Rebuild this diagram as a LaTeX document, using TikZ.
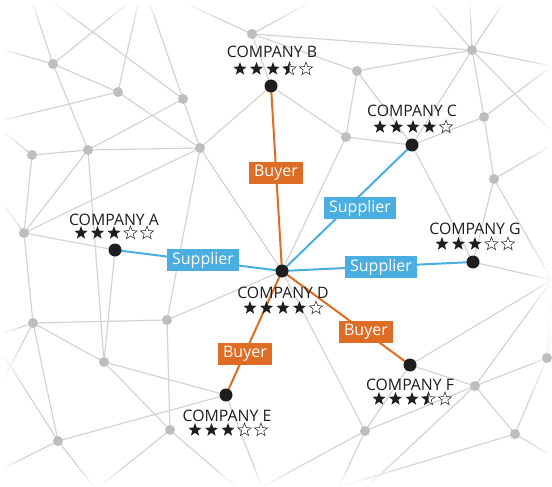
\documentclass[tikz,border=0pt]{standalone}
\usepackage{fontspec}
\setmainfont{Open Sans}
\usetikzlibrary{fadings}
\definecolor{netline}{RGB}{212,212,212}
\definecolor{netdot}{RGB}{190,190,194}
\definecolor{buyer}{RGB}{222,108,36}
\definecolor{supplier}{RGB}{74,174,224}
\definecolor{ink}{RGB}{30,30,30}
\tikzset{
  netedge/.style={draw=netline, line width=1.2pt},
  netnode/.style={fill=netdot},
  buyerlink/.style={draw=buyer, line width=2pt},
  supplierlink/.style={draw=supplier, line width=2pt},
  tagbox/.style={text=white, inner xsep=5pt, inner ysep=0pt, minimum height=22pt,
    font=\fontsize{16}{18}\selectfont},
  buyerbox/.style={tagbox, fill=buyer},
  supplierbox/.style={tagbox, fill=supplier},
  companydot/.style={fill=ink},
  companyname/.style={anchor=base, text=ink, inner sep=0pt, font=\fontsize{15.8}{18}\selectfont},
}
\def\starpath{(270:7) -- (306:2.9) -- (342:7) -- (18:2.9) -- (54:7) -- (90:2.9) -- (126:7) -- (162:2.9) -- (198:7) -- (234:2.9) -- cycle}
% #1 x, #2 y, #3 full stars, #4 half star (0/1)
\newcommand\ratingrow[4]{%
  \foreach \k in {1,...,5}{%
    \pgfmathsetmacro\sx{#1+(\k-3)*16.5}%
    \ifnum\k>#3\relax
      \ifnum\k=\numexpr#3+1\relax
        \ifnum#4=1\relax
          \begin{scope}[shift={(\sx,#2)}]
            \begin{scope}\clip (-8,-8) rectangle (0,8); \fill[ink] \starpath; \end{scope}
            \draw[ink, line width=0.5pt, line join=miter] \starpath;
          \end{scope}
        \else
          \draw[ink, line width=0.5pt, shift={(\sx,#2)}] \starpath;
        \fi
      \else
        \draw[ink, line width=0.5pt, shift={(\sx,#2)}] \starpath;
      \fi
    \else
      \fill[ink, shift={(\sx,#2)}] \starpath;
    \fi
  }%
}
\begin{document}
\begin{tikzpicture}[x=1pt,y=-1pt]
\useasboundingbox (0,0) rectangle (552,487);
\fill[white] (0,0) rectangle (552,487);

% grey network points
\foreach \n/\x/\y in {g1/53/64, g2/118/92, g3/183/99, g4/252/34, g5/88/150, g6/32/155,
  g7/200/148, g8/24/233, g9/472/50, g10/357/71, g11/346/137, g12/484/117, g13/494/179,
  g14/33/323, g15/167/320, g16/104/362, g17/58/441, g18/170/430, g19/475/386,
  g20/547/358, g21/365/431, g22/515/434}
  \coordinate (\n) at (\x,\y);
% companies
\foreach \n/\x/\y in {A/115/250, B/271/86, C/412/145, D/282/271, E/226/395, F/410/365, G/473/262}
  \coordinate (\n) at (\x,\y);
% free ends at the border
\foreach \n/\x/\y in {t1/33/4, t2/55/4, t3/127/4, t4/138/4, t5/150/4, t6/187/4, t7/307/4,
  t8/432/4, t9/470/4, t10/503/4,
  l1/4/50, l2/4/120, l3/4/132, l4/4/205, l5/4/333, l6/4/378, l7/4/468, l8/4/356,
  b1/94/487, b2/99/487, b3/236/487, b4/262/487, b5/339/487, b8/367/487,
  r1/552/66, r2/552/132, r3/552/145, r4/552/280, r5/552/456, r6/552/330}
  \coordinate (\n) at (\x,\y);

% grey network lines
\foreach \a/\b in {t1/g1, t2/g3, t3/g1, t4/g2, t5/g3, t6/g4, t7/g4, t8/g9, t9/g9, t10/g9,
  l1/g1, l2/g2, l3/g6, l4/g8, l5/g14, l6/g14, l7/g17, l8/g17,
  b1/g17, b2/g18, b3/g18, b4/E, b4/g21, b5/g21, b5/g22, b8/g19,
  r1/g9, r1/g12, r2/g9, r3/g13, r4/G, r4/g13, r4/F, r4/g19, r4/g20, r5/g22, r6/g20,
  g1/g2, g2/g7, g1/g5, g3/g5, g3/g7, g4/B, g4/g9, g4/g10, g5/g6, g5/g7, g5/g8, g5/g16,
  g6/g8, g7/g8, g7/g15, g7/D, g7/B, g8/g14, g8/A, g9/g10, g9/C, g9/g12, g10/g11, g10/C,
  B/g11, g11/C, g11/D, C/g12, C/G, g12/g13, g13/G, g14/g15, g14/g16, g14/g17, g15/D,
  g15/g18, g16/A, g16/E, g16/g18, g17/E, D/g21, F/g19, F/g21, g19/g20, g19/g22,
  g19/g21, g20/g22}
  \draw[netedge] (\a) -- (\b);

% fade towards the border
\fill[white, path fading=east] (0,0) rectangle (24,487);
\fill[white, path fading=west] (528,0) rectangle (552,487);
\fill[white, path fading=south] (0,0) rectangle (552,22);
\fill[white, path fading=north] (0,465) rectangle (552,487);

\foreach \n in {g1,g2,g3,g4,g5,g6,g7,g8,g9,g10,g11,g12,g13,g14,g15,g16,g17,g18,g19,g20,g21,g22}
  \fill[netnode] (\n) circle (5);

% relationship links
\draw[buyerlink] (B) -- (D);
\draw[buyerlink] (D) -- (E);
\draw[buyerlink] (D) -- (F);
\draw[supplierlink] (A) -- (D);
\draw[supplierlink] (C) -- (D);
\draw[supplierlink] (D) -- (G);

\node[buyerbox] (tagBD) at (276,173) {Buyer};
\node[buyerbox] (tagDE) at (245,354) {Buyer};
\node[buyerbox] (tagDF) at (366,332) {Buyer};
\node[supplierbox] (tagAD) at (203,260) {Supplier};
\node[supplierbox] (tagCD) at (360,208) {Supplier};
\node[supplierbox] (tagDG) at (381,267) {Supplier};

\foreach \n in {A,B,C,D,E,F,G}
  \fill[companydot] (\n) circle (6.5);

% company names and ratings
\node[companyname] (nameA) at (114,225) {COMPANY A};
\node[companyname] (nameB) at (272,58) {COMPANY B};
\node[companyname] (nameC) at (412,117) {COMPANY C};
\node[companyname] (nameD) at (283,298) {COMPANY D};
\node[companyname] (nameE) at (227,421) {COMPANY E};
\node[companyname] (nameF) at (410,390) {COMPANY F};
\node[companyname] (nameG) at (475,234) {COMPANY G};
\ratingrow{114}{233}{3}{0}
\ratingrow{273}{69}{3}{1}
\ratingrow{413}{127}{4}{0}
\ratingrow{283}{308}{4}{0}
\ratingrow{228}{430}{3}{0}
\ratingrow{412}{399}{3}{1}
\ratingrow{475}{244}{3}{0}
\end{tikzpicture}
\end{document}
